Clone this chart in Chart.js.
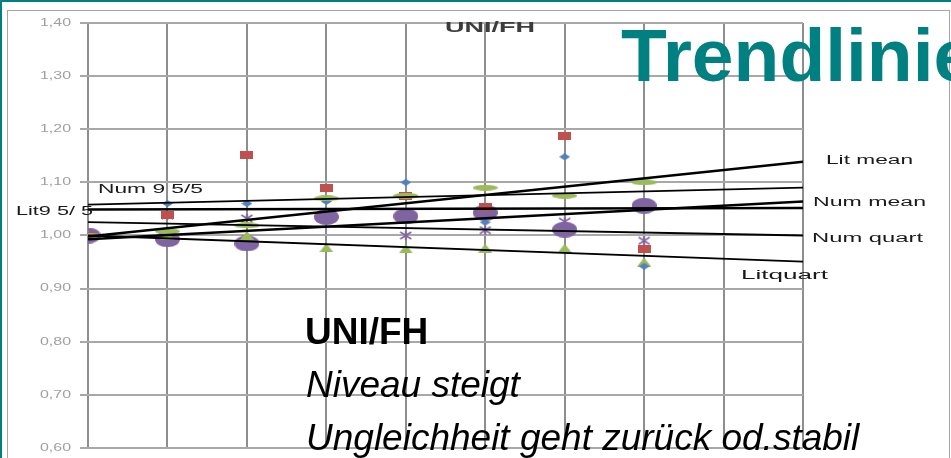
<!DOCTYPE html>
<html>
<head>
<meta charset="utf-8">
<script src="https://cdn.jsdelivr.net/npm/chart.js@4.4.1/dist/chart.umd.min.js"></script>
<style>
  html, body { margin: 0; padding: 0; background: #fff; }
  body { width: 951px; height: 458px; overflow: hidden; position: relative; font-family: "Liberation Sans", Arial, sans-serif; }
  #frame { position: absolute; left: 0; top: 0; width: 951px; height: 458px; border-left: 2px solid #008080; border-top: 2px solid #008080; box-sizing: border-box; }
  #box { position: absolute; left: 7px; top: 10px; width: 943px; height: 470px; border: 1px solid #a6a6a6; box-sizing: border-box; }
  #chart { position: absolute; left: 0; top: 0; }
  .txt { position: absolute; line-height: 1; white-space: nowrap; color: #000; }
  #heading { left: 621px; top: 18px; font-size: 75px; font-weight: bold; color: #008080; }
  #l1 { left: 305px; top: 313px; font-size: 37px; font-weight: bold; }
  #l2 { left: 306px; top: 366px; font-size: 37px; font-style: italic; }
  #l3 { left: 306px; top: 419px; font-size: 37px; font-style: italic; }
</style>
</head>
<body>
<div id="frame"></div>
<div id="box"></div>
<canvas id="chart" width="951" height="458"></canvas>
<div class="txt" id="heading">Trendlinie</div>
<div class="txt" id="l1">UNI/FH</div>
<div class="txt" id="l2">Niveau steigt</div>
<div class="txt" id="l3">Ungleichheit geht zurück od.stabil</div>

<script>
// x positions of the measured points
const xPos = [1, 2, 3, 4, 5, 6, 7, 8];

const numMean  = [1.000, 0.993, 0.985, 1.035, 1.036, 1.043, 1.011, 1.056];  // purple dots
const litMean  = [1.000, 1.008, 1.019, 1.070, 1.075, 1.090, 1.075, 1.100];  // green dashes
const num955   = [1.000, 1.038, 1.152, 1.090, 1.075, 1.054, 1.188, 0.974];  // red squares
const lit955   = [1.000, 1.060, 1.060, 1.064, 1.100, 1.025, 1.148, 0.942];  // blue diamonds
const numQuart = [1.000, 1.038, 1.032, 1.035, 1.000, 1.010, 1.026, 0.990];  // purple stars
const litQuart = [1.000, 1.000, 1.000, 0.977, 0.975, 0.976, 0.976, 0.950];  // green triangles

// trend lines, start and end (x = 1 and x = 10)
const trendX = [1, 10];
const trendLitMean  = [0.998, 1.139];
const trendNumMean  = [0.993, 1.064];
const trendNum955   = [1.058, 1.090];
const trendLit955   = [1.049, 1.052];
const trendNumQuart = [1.025, 1.000];
const trendLitQuart = [1.000, 0.951];

function points(xs, ys) {
    return xs.map((x, i) => ({ x: x, y: ys[i] }));
}

function marker(w, h, draw) {
    let c = document.createElement('canvas');
    c.width = w;
    c.height = h;
    draw(c.getContext('2d'), w, h);
    return c;
}

const dotStyle = marker(25, 16, (g, w, h) => {
    g.fillStyle = '#8064a2';
    g.beginPath();
    g.ellipse(w / 2, h / 2, w / 2, h / 2, 0, 0, Math.PI * 2);
    g.fill();
});
const dashStyle = marker(25, 6, (g, w, h) => {
    g.fillStyle = '#9bbb59';
    g.beginPath();
    g.ellipse(w / 2, h / 2, w / 2, h / 2, 0, 0, Math.PI * 2);
    g.fill();
});
const squareStyle = marker(13, 8, (g, w, h) => {
    g.fillStyle = '#c0504d';
    g.fillRect(0, 0, w, h);
});
const diamondStyle = marker(11, 7, (g, w, h) => {
    g.fillStyle = '#4f81bd';
    g.beginPath();
    g.moveTo(w / 2, 0); g.lineTo(w, h / 2); g.lineTo(w / 2, h); g.lineTo(0, h / 2);
    g.closePath();
    g.fill();
});
const triangleStyle = marker(14, 9, (g, w, h) => {
    g.fillStyle = '#9bbb59';
    g.beginPath();
    g.moveTo(w / 2, 0); g.lineTo(w, h); g.lineTo(0, h);
    g.closePath();
    g.fill();
});
const starStyle = marker(13, 9, (g, w, h) => {
    g.strokeStyle = '#8064a2';
    g.lineWidth = 1.6;
    g.beginPath();
    g.moveTo(1, 1); g.lineTo(w - 1, h - 1);
    g.moveTo(w - 1, 1); g.lineTo(1, h - 1);
    g.moveTo(w / 2, 0); g.lineTo(w / 2, h);
    g.stroke();
});

function markerSet(data, style, order) {
    return { type: 'scatter', data: points(xPos, data), pointStyle: style, pointRadius: 5, order: order };
}

function trendSet(data, width) {
    return {
        type: 'line', data: points(trendX, data), borderColor: '#000', borderWidth: width,
        pointRadius: 0, fill: false, order: 1
    };
}

function stretchText(ctx, text, x, y, width, font, color) {
    ctx.save();
    ctx.font = font;
    ctx.fillStyle = color;
    ctx.textBaseline = 'middle';
    let natural = ctx.measureText(text).width;
    ctx.translate(x, y);
    ctx.scale(width / natural, 1);
    ctx.fillText(text, 0, 0);
    ctx.restore();
}

// small text the library does not place by itself
const labelPlugin = {
    id: 'labels',
    afterDraw(chart) {
        let ctx = chart.ctx;
        let yScale = chart.scales.y;
        yScale.ticks.forEach(t => {
            let label = t.value.toFixed(2).replace('.', ',');
            stretchText(ctx, label, 40, yScale.getPixelForValue(t.value), 31, '10px "Liberation Sans", Arial', '#a0a0a0');
        });
        stretchText(ctx, 'UNI/FH', 445, 28, 90, 'bold 15px "Liberation Sans", Arial', '#3c3c3c');
        let f = '12px "Liberation Sans", Arial';
        stretchText(ctx, 'Lit mean', 826, 161, 87, f, '#1a1a1a');
        stretchText(ctx, 'Num mean', 813, 203, 113, f, '#1a1a1a');
        stretchText(ctx, 'Num quart', 812, 239, 111, f, '#1a1a1a');
        stretchText(ctx, 'Litquart', 741, 276, 87, f, '#1a1a1a');
        stretchText(ctx, 'Num 9 5/5', 98, 190, 105, f, '#1a1a1a');
        stretchText(ctx, 'Lit9 5/ 5', 16, 212, 77, f, '#1a1a1a');
    }
};

new Chart(document.getElementById('chart'), {
    type: 'scatter',
    data: {
        datasets: [
            trendSet(trendLitMean, 2.5),
            trendSet(trendNumMean, 2.5),
            trendSet(trendNum955, 1.8),
            trendSet(trendLit955, 2.5),
            trendSet(trendNumQuart, 1.8),
            trendSet(trendLitQuart, 1.8),
            markerSet(litMean, dashStyle, 2),
            markerSet(num955, squareStyle, 3),
            markerSet(lit955, diamondStyle, 4),
            markerSet(litQuart, triangleStyle, 5),
            markerSet(numQuart, starStyle, 6),
            markerSet(numMean, dotStyle, 7)
        ]
    },
    options: {
        responsive: false,
        animation: false,
        layout: { padding: { left: 0, top: 23, right: 148, bottom: 10 } },
        plugins: {
            legend: { display: false },
            tooltip: { enabled: false }
        },
        scales: {
            x: {
                type: 'linear', min: 1, max: 10,
                ticks: { display: false, stepSize: 1 },
                grid: { color: '#8e8e8e', lineWidth: 2, drawTicks: false },
                border: { display: false },
                afterFit: s => { s.height = 0; }
            },
            y: {
                min: 0.6, max: 1.4,
                ticks: { display: false, stepSize: 0.1 },
                grid: { color: '#a8a8a8', lineWidth: 2, tickLength: 8 },
                border: { display: false },
                afterFit: s => { s.width = 88; }
            }
        }
    },
    plugins: [labelPlugin]
});
</script>
</body>
</html>
